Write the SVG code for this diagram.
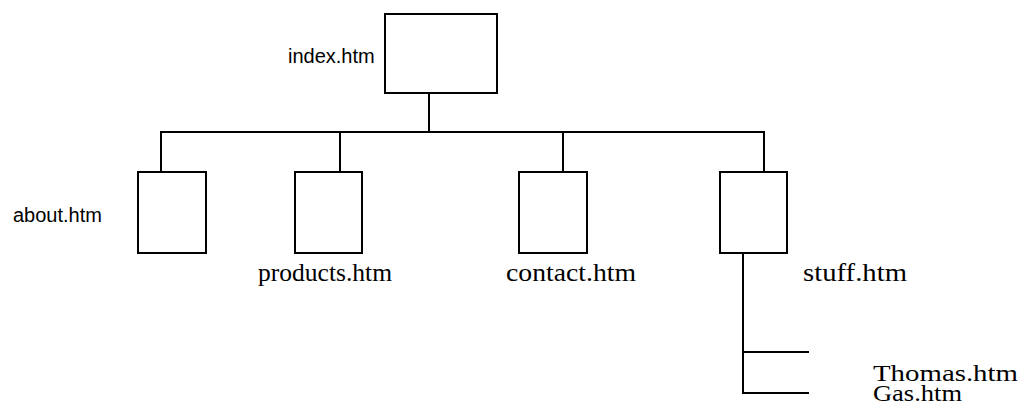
<svg xmlns="http://www.w3.org/2000/svg" width="1021" height="405" viewBox="0 0 1021 405">
<style>
.box{fill:#fff;stroke:#000;stroke-width:2}
.ln{stroke:#000;stroke-width:2;fill:none}
.sans{font-family:"Liberation Sans",Arial,sans-serif;font-size:20px;fill:#000}
.serif{font-family:"Liberation Serif","Times New Roman",serif;font-size:26px;fill:#000}
.serif2{font-family:"Liberation Serif","Times New Roman",serif;font-size:23px;fill:#000}
</style>
<rect width="1021" height="405" fill="#fff"/>
<g id="connectors">
<line class="ln" x1="429" y1="93" x2="429" y2="132"/>
<line class="ln" x1="160" y1="132" x2="765" y2="132"/>
<line class="ln" x1="161" y1="132" x2="161" y2="172"/>
<line class="ln" x1="340" y1="132" x2="340" y2="172"/>
<line class="ln" x1="563" y1="132" x2="563" y2="172"/>
<line class="ln" x1="764" y1="132" x2="764" y2="172"/>
<line class="ln" x1="743" y1="253" x2="743" y2="394"/>
<line class="ln" x1="743" y1="352" x2="809" y2="352"/>
<line class="ln" x1="743" y1="393" x2="809" y2="393"/>
</g>
<g id="index">
<rect class="box" x="385" y="14" width="112" height="79"/>
<text class="sans" x="288" y="63">index.htm</text>
</g>
<g id="about">
<rect class="box" x="138" y="172" width="68" height="81"/>
<text class="sans" x="13" y="222">about.htm</text>
</g>
<g id="products">
<rect class="box" x="295" y="172" width="67" height="81"/>
<text class="serif" x="258" y="281" textLength="134" lengthAdjust="spacingAndGlyphs">products.htm</text>
</g>
<g id="contact">
<rect class="box" x="519" y="172" width="68" height="81"/>
<text class="serif" x="506" y="281" textLength="130" lengthAdjust="spacingAndGlyphs">contact.htm</text>
</g>
<g id="stuff">
<rect class="box" x="720" y="172" width="67" height="81"/>
<text class="serif" x="803" y="281" textLength="104" lengthAdjust="spacingAndGlyphs">stuff.htm</text>
</g>
<g id="thomas">
<text class="serif2" x="873" y="381" textLength="145" lengthAdjust="spacingAndGlyphs">Thomas.htm</text>
</g>
<g id="gas">
<text class="serif2" x="873" y="401" textLength="89" lengthAdjust="spacingAndGlyphs">Gas.htm</text>
</g>
</svg>
